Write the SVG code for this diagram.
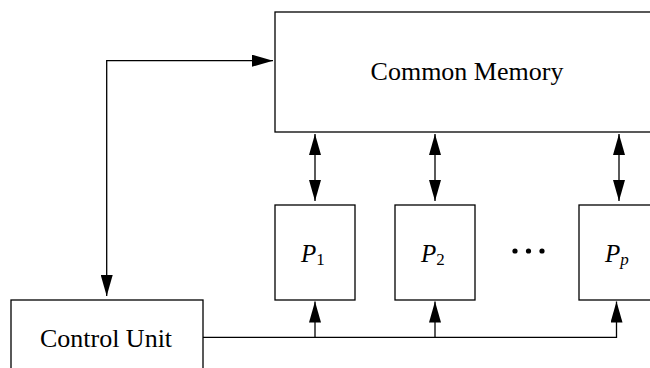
<svg xmlns="http://www.w3.org/2000/svg" width="650" height="368" viewBox="0 0 650 368">
<style>
.box{fill:#fff;stroke:#000;stroke-width:1.3}
.ln{fill:none;stroke:#000;stroke-width:1.3}
.lbl{font-family:"Liberation Serif","Times New Roman",serif;fill:#000}
.p{font-family:"Liberation Serif","Times New Roman",serif;font-style:italic;fill:#000}
</style>
<defs>
<marker id="ah" markerUnits="userSpaceOnUse" markerWidth="22" markerHeight="12" refX="21" refY="6" orient="auto-start-reverse">
<path d="M0,0 L21,6 L0,12 Z" fill="#000"/>
</marker>
</defs>
<g id="memory">
<rect class="box" x="275" y="12" width="390" height="120"/>
<text class="lbl" x="467" y="80" font-size="26" text-anchor="middle">Common Memory</text>
</g>
<g id="control">
<rect class="box" x="11" y="300" width="192" height="80"/>
<text class="lbl" x="106" y="347" font-size="26" text-anchor="middle">Control Unit</text>
</g>
<g id="p1">
<rect class="box" x="275" y="205" width="80" height="95"/>
<text class="p" x="301" y="262" font-size="25">P<tspan font-style="normal" font-size="17" dy="3">1</tspan></text>
</g>
<g id="p2">
<rect class="box" x="395" y="205" width="80" height="95"/>
<text class="p" x="421" y="262" font-size="25">P<tspan font-style="normal" font-size="17" dy="3">2</tspan></text>
</g>
<g id="dots">
<circle cx="515" cy="251" r="2.6"/>
<circle cx="528.5" cy="251" r="2.6"/>
<circle cx="542" cy="251" r="2.6"/>
</g>
<g id="pp">
<rect class="box" x="579" y="205" width="90" height="95"/>
<text class="p" x="605" y="262" font-size="25">P<tspan font-size="17" dy="3">p</tspan></text>
</g>
<g id="connectors">
<path class="ln" d="M106.7,296 V60.7 H273" marker-start="url(#ah)" marker-end="url(#ah)"/>
<path class="ln" d="M315,134 V201" marker-start="url(#ah)" marker-end="url(#ah)"/>
<path class="ln" d="M435,134 V201" marker-start="url(#ah)" marker-end="url(#ah)"/>
<path class="ln" d="M619,134 V201" marker-start="url(#ah)" marker-end="url(#ah)"/>
<path class="ln" d="M203,337.3 H616.5 V301.5" marker-end="url(#ah)"/>
<path class="ln" d="M315,337.3 V301.5" marker-end="url(#ah)"/>
<path class="ln" d="M435,337.3 V301.5" marker-end="url(#ah)"/>
</g>
</svg>
